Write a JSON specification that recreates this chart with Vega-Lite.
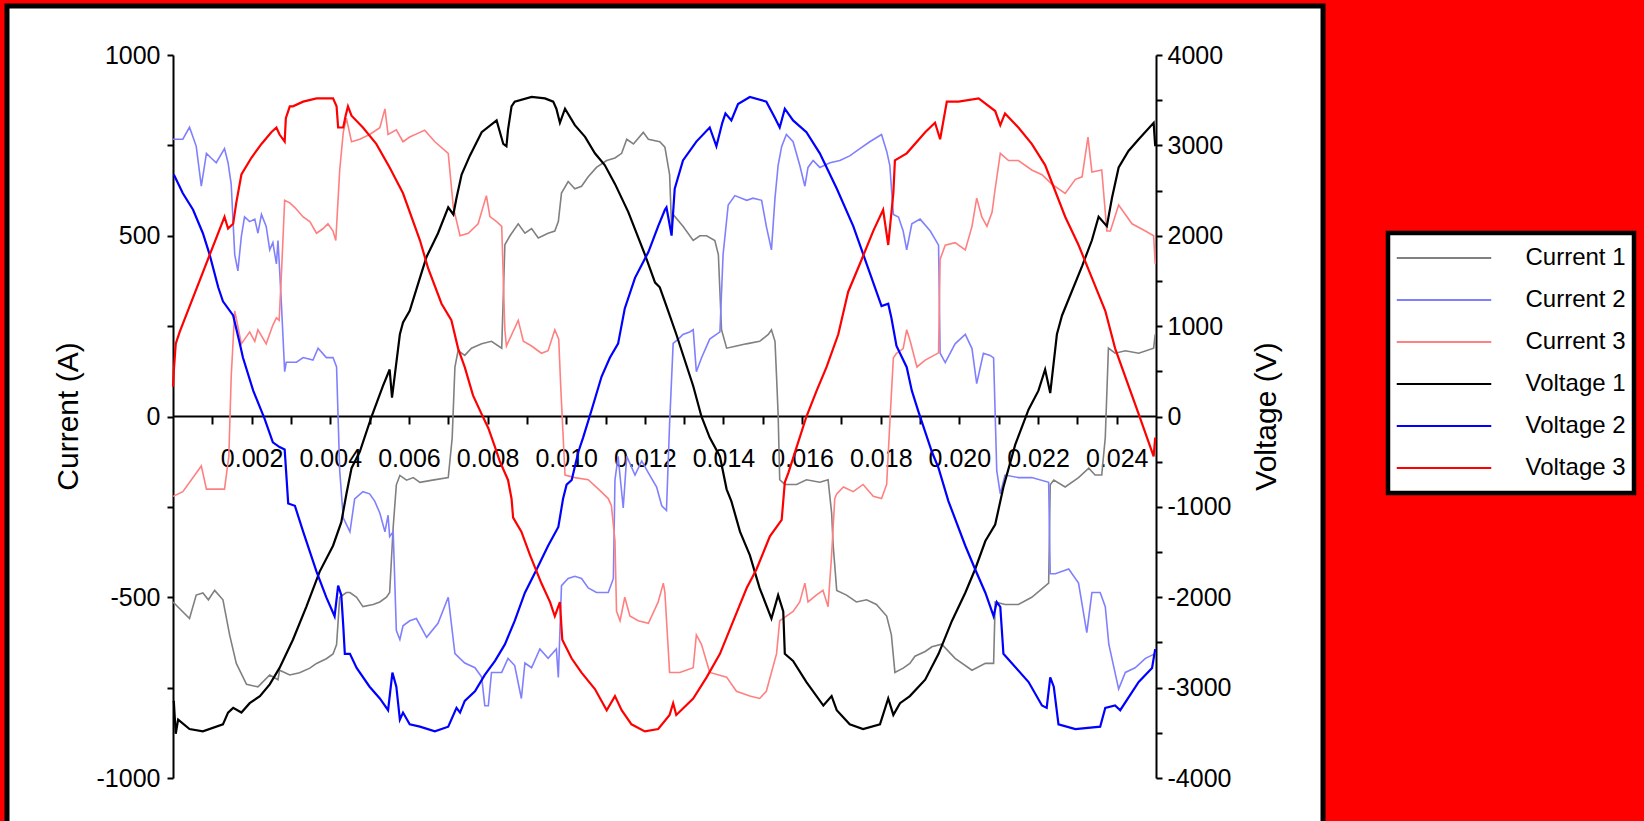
{
"$schema":"https://vega.github.io/schema/vega-lite/v6.json",
"width":1316,"height":815,
"autosize":{"type":"none"},
"padding":{"left":7,"top":6,"right":321,"bottom":0},
"background":"#ff0000",
"config":{
 "view":{"fill":"#ffffff","stroke":"#000000","strokeWidth":5,"strokeDash":[2131,1316,900]},
 "axis":{"grid":false,"domainColor":"#000000","tickColor":"#000000","labelColor":"#000000","titleColor":"#000000","domainWidth":2,"tickWidth":2,"labelFont":"Liberation Sans","labelFontSize":25,"titleFont":"Liberation Sans","titleFontSize":30,"titleFontWeight":"normal","labelOverlap":false,"labelFlush":false,"labelBound":false},
 "legend":{"strokeWidth":4.5}
},
"datasets":{
"cur":[
{"s":"Current 1","t":0,"v":-513},{"s":"Current 1","t":0.00042,"v":-559},{"s":"Current 1","t":0.00059,"v":-494},{"s":"Current 1","t":0.00076,"v":-488},{"s":"Current 1","t":0.0009,"v":-507},{"s":"Current 1","t":0.00106,"v":-481},{"s":"Current 1","t":0.00127,"v":-507},{"s":"Current 1","t":0.00144,"v":-604},{"s":"Current 1","t":0.00161,"v":-683},{"s":"Current 1","t":0.00187,"v":-741},{"s":"Current 1","t":0.00216,"v":-748},{"s":"Current 1","t":0.00246,"v":-715},{"s":"Current 1","t":0.00267,"v":-728},{"s":"Current 1","t":0.00271,"v":-702},{"s":"Current 1","t":0.00297,"v":-715},{"s":"Current 1","t":0.00322,"v":-709},{"s":"Current 1","t":0.00348,"v":-696},{"s":"Current 1","t":0.00365,"v":-683},{"s":"Current 1","t":0.0039,"v":-670},{"s":"Current 1","t":0.00407,"v":-657},{"s":"Current 1","t":0.00416,"v":-631},{"s":"Current 1","t":0.00424,"v":-500},{"s":"Current 1","t":0.00441,"v":-487},{"s":"Current 1","t":0.0045,"v":-487},{"s":"Current 1","t":0.00467,"v":-500},{"s":"Current 1","t":0.00483,"v":-526},{"s":"Current 1","t":0.00509,"v":-520},{"s":"Current 1","t":0.00526,"v":-513},{"s":"Current 1","t":0.00543,"v":-500},{"s":"Current 1","t":0.00551,"v":-487},{"s":"Current 1","t":0.0056,"v":-306},{"s":"Current 1","t":0.00568,"v":-189},{"s":"Current 1","t":0.00577,"v":-163},{"s":"Current 1","t":0.00594,"v":-176},{"s":"Current 1","t":0.00611,"v":-169},{"s":"Current 1","t":0.00628,"v":-182},{"s":"Current 1","t":0.0066,"v":-176},{"s":"Current 1","t":0.007,"v":-169},{"s":"Current 1","t":0.0071,"v":-60},{"s":"Current 1","t":0.00717,"v":137},{"s":"Current 1","t":0.00725,"v":182},{"s":"Current 1","t":0.00742,"v":169},{"s":"Current 1","t":0.00759,"v":189},{"s":"Current 1","t":0.00785,"v":201},{"s":"Current 1","t":0.0081,"v":208},{"s":"Current 1","t":0.00836,"v":189},{"s":"Current 1","t":0.00844,"v":475},{"s":"Current 1","t":0.00857,"v":500},{"s":"Current 1","t":0.00878,"v":533},{"s":"Current 1","t":0.00895,"v":507},{"s":"Current 1","t":0.00912,"v":520},{"s":"Current 1","t":0.00929,"v":494},{"s":"Current 1","t":0.00954,"v":507},{"s":"Current 1","t":0.00971,"v":513},{"s":"Current 1","t":0.0098,"v":539},{"s":"Current 1","t":0.00988,"v":618},{"s":"Current 1","t":0.01005,"v":650},{"s":"Current 1","t":0.01022,"v":630},{"s":"Current 1","t":0.01039,"v":637},{"s":"Current 1","t":0.01056,"v":663},{"s":"Current 1","t":0.01077,"v":689},{"s":"Current 1","t":0.01103,"v":708},{"s":"Current 1","t":0.01124,"v":715},{"s":"Current 1","t":0.01141,"v":728},{"s":"Current 1","t":0.01154,"v":767},{"s":"Current 1","t":0.01171,"v":754},{"s":"Current 1","t":0.01196,"v":786},{"s":"Current 1","t":0.01209,"v":767},{"s":"Current 1","t":0.01238,"v":760},{"s":"Current 1","t":0.01251,"v":745},{"s":"Current 1","t":0.01263,"v":669},{"s":"Current 1","t":0.01268,"v":526},{"s":"Current 1","t":0.01272,"v":559},{"s":"Current 1","t":0.01297,"v":526},{"s":"Current 1","t":0.01323,"v":487},{"s":"Current 1","t":0.0134,"v":500},{"s":"Current 1","t":0.01357,"v":500},{"s":"Current 1","t":0.01378,"v":487},{"s":"Current 1","t":0.01387,"v":448},{"s":"Current 1","t":0.01395,"v":240},{"s":"Current 1","t":0.01408,"v":189},{"s":"Current 1","t":0.01433,"v":195},{"s":"Current 1","t":0.01458,"v":201},{"s":"Current 1","t":0.01492,"v":208},{"s":"Current 1","t":0.01514,"v":227},{"s":"Current 1","t":0.01522,"v":240},{"s":"Current 1","t":0.01531,"v":208},{"s":"Current 1","t":0.01535,"v":110},{"s":"Current 1","t":0.01539,"v":6},{"s":"Current 1","t":0.01543,"v":-175},{"s":"Current 1","t":0.01556,"v":-188},{"s":"Current 1","t":0.01586,"v":-188},{"s":"Current 1","t":0.01611,"v":-175},{"s":"Current 1","t":0.01645,"v":-182},{"s":"Current 1","t":0.01666,"v":-175},{"s":"Current 1","t":0.01675,"v":-266},{"s":"Current 1","t":0.01679,"v":-357},{"s":"Current 1","t":0.01688,"v":-481},{"s":"Current 1","t":0.01713,"v":-494},{"s":"Current 1","t":0.01738,"v":-513},{"s":"Current 1","t":0.01764,"v":-507},{"s":"Current 1","t":0.01789,"v":-520},{"s":"Current 1","t":0.01815,"v":-552},{"s":"Current 1","t":0.01827,"v":-604},{"s":"Current 1","t":0.01836,"v":-708},{"s":"Current 1","t":0.01857,"v":-696},{"s":"Current 1","t":0.01874,"v":-683},{"s":"Current 1","t":0.01887,"v":-663},{"s":"Current 1","t":0.01913,"v":-650},{"s":"Current 1","t":0.0193,"v":-637},{"s":"Current 1","t":0.01955,"v":-630},{"s":"Current 1","t":0.01989,"v":-669},{"s":"Current 1","t":0.02032,"v":-702},{"s":"Current 1","t":0.02066,"v":-683},{"s":"Current 1","t":0.02087,"v":-683},{"s":"Current 1","t":0.02091,"v":-513},{"s":"Current 1","t":0.02116,"v":-520},{"s":"Current 1","t":0.0215,"v":-520},{"s":"Current 1","t":0.02184,"v":-500},{"s":"Current 1","t":0.02227,"v":-461},{"s":"Current 1","t":0.02231,"v":-189},{"s":"Current 1","t":0.0224,"v":-176},{"s":"Current 1","t":0.02269,"v":-195},{"s":"Current 1","t":0.02303,"v":-169},{"s":"Current 1","t":0.02329,"v":-143},{"s":"Current 1","t":0.02345,"v":-162},{"s":"Current 1","t":0.02362,"v":-162},{"s":"Current 1","t":0.02371,"v":-58},{"s":"Current 1","t":0.02379,"v":189},{"s":"Current 1","t":0.02396,"v":175},{"s":"Current 1","t":0.02422,"v":182},{"s":"Current 1","t":0.02456,"v":175},{"s":"Current 1","t":0.02494,"v":189},{"s":"Current 1","t":0.02498,"v":227},
{"s":"Current 2","t":0,"v":767},{"s":"Current 2","t":0.00025,"v":767},{"s":"Current 2","t":0.00042,"v":800},{"s":"Current 2","t":0.00059,"v":748},{"s":"Current 2","t":0.00072,"v":637},{"s":"Current 2","t":0.00085,"v":728},{"s":"Current 2","t":0.00097,"v":715},{"s":"Current 2","t":0.0011,"v":702},{"s":"Current 2","t":0.00131,"v":741},{"s":"Current 2","t":0.0014,"v":702},{"s":"Current 2","t":0.00148,"v":643},{"s":"Current 2","t":0.00157,"v":448},{"s":"Current 2","t":0.00165,"v":403},{"s":"Current 2","t":0.00174,"v":500},{"s":"Current 2","t":0.00182,"v":552},{"s":"Current 2","t":0.00195,"v":539},{"s":"Current 2","t":0.00208,"v":546},{"s":"Current 2","t":0.00216,"v":507},{"s":"Current 2","t":0.00225,"v":559},{"s":"Current 2","t":0.00237,"v":526},{"s":"Current 2","t":0.00246,"v":461},{"s":"Current 2","t":0.00254,"v":481},{"s":"Current 2","t":0.00263,"v":422},{"s":"Current 2","t":0.00267,"v":487},{"s":"Current 2","t":0.00271,"v":409},{"s":"Current 2","t":0.00276,"v":305},{"s":"Current 2","t":0.00284,"v":124},{"s":"Current 2","t":0.00288,"v":150},{"s":"Current 2","t":0.00314,"v":150},{"s":"Current 2","t":0.00331,"v":163},{"s":"Current 2","t":0.00356,"v":156},{"s":"Current 2","t":0.00369,"v":189},{"s":"Current 2","t":0.0039,"v":163},{"s":"Current 2","t":0.00407,"v":163},{"s":"Current 2","t":0.00416,"v":137},{"s":"Current 2","t":0.00424,"v":-150},{"s":"Current 2","t":0.00433,"v":-280},{"s":"Current 2","t":0.0045,"v":-319},{"s":"Current 2","t":0.00462,"v":-228},{"s":"Current 2","t":0.00483,"v":-208},{"s":"Current 2","t":0.005,"v":-214},{"s":"Current 2","t":0.00513,"v":-234},{"s":"Current 2","t":0.00526,"v":-267},{"s":"Current 2","t":0.00539,"v":-319},{"s":"Current 2","t":0.00547,"v":-273},{"s":"Current 2","t":0.00551,"v":-332},{"s":"Current 2","t":0.0056,"v":-319},{"s":"Current 2","t":0.00568,"v":-592},{"s":"Current 2","t":0.00577,"v":-617},{"s":"Current 2","t":0.00585,"v":-579},{"s":"Current 2","t":0.00602,"v":-565},{"s":"Current 2","t":0.00619,"v":-559},{"s":"Current 2","t":0.00645,"v":-611},{"s":"Current 2","t":0.00674,"v":-572},{"s":"Current 2","t":0.007,"v":-500},{"s":"Current 2","t":0.00717,"v":-656},{"s":"Current 2","t":0.00742,"v":-682},{"s":"Current 2","t":0.00768,"v":-695},{"s":"Current 2","t":0.00785,"v":-721},{"s":"Current 2","t":0.00793,"v":-800},{"s":"Current 2","t":0.00802,"v":-800},{"s":"Current 2","t":0.0081,"v":-708},{"s":"Current 2","t":0.00836,"v":-708},{"s":"Current 2","t":0.00852,"v":-669},{"s":"Current 2","t":0.00869,"v":-689},{"s":"Current 2","t":0.00886,"v":-780},{"s":"Current 2","t":0.00895,"v":-682},{"s":"Current 2","t":0.00912,"v":-695},{"s":"Current 2","t":0.00933,"v":-643},{"s":"Current 2","t":0.00954,"v":-669},{"s":"Current 2","t":0.00975,"v":-643},{"s":"Current 2","t":0.0098,"v":-722},{"s":"Current 2","t":0.00988,"v":-468},{"s":"Current 2","t":0.01005,"v":-448},{"s":"Current 2","t":0.01022,"v":-442},{"s":"Current 2","t":0.01039,"v":-448},{"s":"Current 2","t":0.01056,"v":-474},{"s":"Current 2","t":0.01077,"v":-487},{"s":"Current 2","t":0.01107,"v":-487},{"s":"Current 2","t":0.0112,"v":-448},{"s":"Current 2","t":0.01124,"v":-176},{"s":"Current 2","t":0.01132,"v":-110},{"s":"Current 2","t":0.01145,"v":-253},{"s":"Current 2","t":0.01154,"v":-110},{"s":"Current 2","t":0.01175,"v":-162},{"s":"Current 2","t":0.01192,"v":-123},{"s":"Current 2","t":0.01209,"v":-156},{"s":"Current 2","t":0.0123,"v":-195},{"s":"Current 2","t":0.01243,"v":-247},{"s":"Current 2","t":0.01255,"v":-260},{"s":"Current 2","t":0.01263,"v":-19},{"s":"Current 2","t":0.01272,"v":202},{"s":"Current 2","t":0.01285,"v":214},{"s":"Current 2","t":0.01297,"v":227},{"s":"Current 2","t":0.01314,"v":234},{"s":"Current 2","t":0.01323,"v":240},{"s":"Current 2","t":0.01331,"v":124},{"s":"Current 2","t":0.01344,"v":162},{"s":"Current 2","t":0.01365,"v":214},{"s":"Current 2","t":0.01382,"v":227},{"s":"Current 2","t":0.01391,"v":234},{"s":"Current 2","t":0.01399,"v":448},{"s":"Current 2","t":0.01412,"v":585},{"s":"Current 2","t":0.01429,"v":611},{"s":"Current 2","t":0.01459,"v":598},{"s":"Current 2","t":0.01475,"v":604},{"s":"Current 2","t":0.01497,"v":598},{"s":"Current 2","t":0.01509,"v":526},{"s":"Current 2","t":0.01522,"v":461},{"s":"Current 2","t":0.01531,"v":604},{"s":"Current 2","t":0.01539,"v":695},{"s":"Current 2","t":0.01548,"v":747},{"s":"Current 2","t":0.0156,"v":780},{"s":"Current 2","t":0.01577,"v":760},{"s":"Current 2","t":0.01594,"v":695},{"s":"Current 2","t":0.01607,"v":637},{"s":"Current 2","t":0.01615,"v":689},{"s":"Current 2","t":0.01628,"v":708},{"s":"Current 2","t":0.01645,"v":689},{"s":"Current 2","t":0.01671,"v":702},{"s":"Current 2","t":0.01696,"v":708},{"s":"Current 2","t":0.01721,"v":721},{"s":"Current 2","t":0.01747,"v":741},{"s":"Current 2","t":0.01772,"v":760},{"s":"Current 2","t":0.01802,"v":780},{"s":"Current 2","t":0.01815,"v":734},{"s":"Current 2","t":0.01823,"v":695},{"s":"Current 2","t":0.01832,"v":559},{"s":"Current 2","t":0.01845,"v":552},{"s":"Current 2","t":0.01857,"v":513},{"s":"Current 2","t":0.01866,"v":461},{"s":"Current 2","t":0.01879,"v":533},{"s":"Current 2","t":0.019,"v":546},{"s":"Current 2","t":0.01926,"v":513},{"s":"Current 2","t":0.01947,"v":474},{"s":"Current 2","t":0.01951,"v":175},{"s":"Current 2","t":0.01964,"v":149},{"s":"Current 2","t":0.01989,"v":201},{"s":"Current 2","t":0.02015,"v":227},{"s":"Current 2","t":0.02032,"v":188},{"s":"Current 2","t":0.02044,"v":91},{"s":"Current 2","t":0.02061,"v":175},{"s":"Current 2","t":0.02078,"v":169},{"s":"Current 2","t":0.02087,"v":162},{"s":"Current 2","t":0.02095,"v":-150},{"s":"Current 2","t":0.02104,"v":-214},{"s":"Current 2","t":0.02116,"v":-162},{"s":"Current 2","t":0.0215,"v":-169},{"s":"Current 2","t":0.02184,"v":-169},{"s":"Current 2","t":0.02227,"v":-182},{"s":"Current 2","t":0.02231,"v":-435},{"s":"Current 2","t":0.02244,"v":-435},{"s":"Current 2","t":0.02278,"v":-422},{"s":"Current 2","t":0.02303,"v":-461},{"s":"Current 2","t":0.02324,"v":-598},{"s":"Current 2","t":0.02337,"v":-487},{"s":"Current 2","t":0.02358,"v":-487},{"s":"Current 2","t":0.02371,"v":-526},{"s":"Current 2","t":0.0238,"v":-630},{"s":"Current 2","t":0.02405,"v":-754},{"s":"Current 2","t":0.02422,"v":-708},{"s":"Current 2","t":0.02447,"v":-695},{"s":"Current 2","t":0.02473,"v":-669},{"s":"Current 2","t":0.02498,"v":-656},
{"s":"Current 3","t":0,"v":-221},{"s":"Current 3","t":0.00025,"v":-208},{"s":"Current 3","t":0.00072,"v":-137},{"s":"Current 3","t":0.00085,"v":-201},{"s":"Current 3","t":0.00131,"v":-201},{"s":"Current 3","t":0.00142,"v":-110},{"s":"Current 3","t":0.00148,"v":110},{"s":"Current 3","t":0.00157,"v":292},{"s":"Current 3","t":0.00174,"v":201},{"s":"Current 3","t":0.00195,"v":234},{"s":"Current 3","t":0.00208,"v":208},{"s":"Current 3","t":0.00216,"v":240},{"s":"Current 3","t":0.00237,"v":201},{"s":"Current 3","t":0.00254,"v":253},{"s":"Current 3","t":0.00263,"v":273},{"s":"Current 3","t":0.0027,"v":266},{"s":"Current 3","t":0.00276,"v":400},{"s":"Current 3","t":0.00284,"v":598},{"s":"Current 3","t":0.00297,"v":591},{"s":"Current 3","t":0.0031,"v":578},{"s":"Current 3","t":0.00331,"v":552},{"s":"Current 3","t":0.00348,"v":539},{"s":"Current 3","t":0.00365,"v":507},{"s":"Current 3","t":0.00382,"v":520},{"s":"Current 3","t":0.00394,"v":533},{"s":"Current 3","t":0.00407,"v":513},{"s":"Current 3","t":0.00414,"v":487},{"s":"Current 3","t":0.00424,"v":682},{"s":"Current 3","t":0.00433,"v":786},{"s":"Current 3","t":0.00441,"v":825},{"s":"Current 3","t":0.00454,"v":760},{"s":"Current 3","t":0.00475,"v":767},{"s":"Current 3","t":0.005,"v":780},{"s":"Current 3","t":0.00526,"v":799},{"s":"Current 3","t":0.00539,"v":851},{"s":"Current 3","t":0.00547,"v":780},{"s":"Current 3","t":0.00568,"v":793},{"s":"Current 3","t":0.00585,"v":760},{"s":"Current 3","t":0.00602,"v":773},{"s":"Current 3","t":0.00628,"v":786},{"s":"Current 3","t":0.0064,"v":792},{"s":"Current 3","t":0.00666,"v":760},{"s":"Current 3","t":0.007,"v":728},{"s":"Current 3","t":0.00713,"v":578},{"s":"Current 3","t":0.0073,"v":500},{"s":"Current 3","t":0.00751,"v":507},{"s":"Current 3","t":0.00776,"v":533},{"s":"Current 3","t":0.00797,"v":611},{"s":"Current 3","t":0.00806,"v":553},{"s":"Current 3","t":0.00823,"v":539},{"s":"Current 3","t":0.00836,"v":526},{"s":"Current 3","t":0.00844,"v":240},{"s":"Current 3","t":0.00848,"v":195},{"s":"Current 3","t":0.00878,"v":266},{"s":"Current 3","t":0.00891,"v":208},{"s":"Current 3","t":0.00912,"v":195},{"s":"Current 3","t":0.00937,"v":175},{"s":"Current 3","t":0.00954,"v":182},{"s":"Current 3","t":0.00971,"v":240},{"s":"Current 3","t":0.00981,"v":214},{"s":"Current 3","t":0.00986,"v":85},{"s":"Current 3","t":0.00997,"v":-162},{"s":"Current 3","t":0.01022,"v":-169},{"s":"Current 3","t":0.01056,"v":-175},{"s":"Current 3","t":0.01082,"v":-201},{"s":"Current 3","t":0.01107,"v":-227},{"s":"Current 3","t":0.01115,"v":-247},{"s":"Current 3","t":0.01124,"v":-344},{"s":"Current 3","t":0.01128,"v":-539},{"s":"Current 3","t":0.01137,"v":-565},{"s":"Current 3","t":0.01149,"v":-500},{"s":"Current 3","t":0.01162,"v":-552},{"s":"Current 3","t":0.01183,"v":-565},{"s":"Current 3","t":0.01209,"v":-572},{"s":"Current 3","t":0.01234,"v":-513},{"s":"Current 3","t":0.01247,"v":-461},{"s":"Current 3","t":0.01251,"v":-487},{"s":"Current 3","t":0.01263,"v":-708},{"s":"Current 3","t":0.01289,"v":-708},{"s":"Current 3","t":0.01323,"v":-695},{"s":"Current 3","t":0.01331,"v":-604},{"s":"Current 3","t":0.01344,"v":-630},{"s":"Current 3","t":0.01365,"v":-708},{"s":"Current 3","t":0.01408,"v":-721},{"s":"Current 3","t":0.01433,"v":-760},{"s":"Current 3","t":0.01467,"v":-773},{"s":"Current 3","t":0.01492,"v":-780},{"s":"Current 3","t":0.01509,"v":-760},{"s":"Current 3","t":0.01522,"v":-708},{"s":"Current 3","t":0.01535,"v":-656},{"s":"Current 3","t":0.01543,"v":-565},{"s":"Current 3","t":0.0156,"v":-552},{"s":"Current 3","t":0.01577,"v":-539},{"s":"Current 3","t":0.01594,"v":-513},{"s":"Current 3","t":0.01607,"v":-461},{"s":"Current 3","t":0.01615,"v":-513},{"s":"Current 3","t":0.01636,"v":-494},{"s":"Current 3","t":0.01653,"v":-481},{"s":"Current 3","t":0.01666,"v":-526},{"s":"Current 3","t":0.01675,"v":-383},{"s":"Current 3","t":0.01683,"v":-227},{"s":"Current 3","t":0.01688,"v":-214},{"s":"Current 3","t":0.01705,"v":-195},{"s":"Current 3","t":0.0173,"v":-208},{"s":"Current 3","t":0.01755,"v":-188},{"s":"Current 3","t":0.01781,"v":-221},{"s":"Current 3","t":0.01802,"v":-227},{"s":"Current 3","t":0.01815,"v":-188},{"s":"Current 3","t":0.01823,"v":-19},{"s":"Current 3","t":0.01832,"v":162},{"s":"Current 3","t":0.0184,"v":175},{"s":"Current 3","t":0.01857,"v":188},{"s":"Current 3","t":0.01866,"v":240},{"s":"Current 3","t":0.01875,"v":208},{"s":"Current 3","t":0.01892,"v":137},{"s":"Current 3","t":0.01913,"v":156},{"s":"Current 3","t":0.01947,"v":176},{"s":"Current 3","t":0.01951,"v":435},{"s":"Current 3","t":0.01964,"v":474},{"s":"Current 3","t":0.01989,"v":481},{"s":"Current 3","t":0.02015,"v":461},{"s":"Current 3","t":0.02032,"v":526},{"s":"Current 3","t":0.02044,"v":604},{"s":"Current 3","t":0.02057,"v":552},{"s":"Current 3","t":0.0207,"v":526},{"s":"Current 3","t":0.02083,"v":565},{"s":"Current 3","t":0.02091,"v":630},{"s":"Current 3","t":0.02104,"v":728},{"s":"Current 3","t":0.02125,"v":708},{"s":"Current 3","t":0.0215,"v":708},{"s":"Current 3","t":0.02184,"v":682},{"s":"Current 3","t":0.0221,"v":669},{"s":"Current 3","t":0.02235,"v":643},{"s":"Current 3","t":0.02269,"v":617},{"s":"Current 3","t":0.02295,"v":656},{"s":"Current 3","t":0.02312,"v":663},{"s":"Current 3","t":0.02327,"v":773},{"s":"Current 3","t":0.02337,"v":676},{"s":"Current 3","t":0.02362,"v":682},{"s":"Current 3","t":0.02375,"v":513},{"s":"Current 3","t":0.02384,"v":513},{"s":"Current 3","t":0.02405,"v":585},{"s":"Current 3","t":0.02439,"v":533},{"s":"Current 3","t":0.02473,"v":513},{"s":"Current 3","t":0.02494,"v":500},{"s":"Current 3","t":0.02498,"v":422}
],
"vol":[
{"s":"Voltage 1","t":0.00002,"v":-3146},{"s":"Voltage 1","t":0.00007,"v":-3510},{"s":"Voltage 1","t":0.00013,"v":-3354},{"s":"Voltage 1","t":0.00042,"v":-3458},{"s":"Voltage 1","t":0.00076,"v":-3484},{"s":"Voltage 1","t":0.00127,"v":-3406},{"s":"Voltage 1","t":0.0014,"v":-3276},{"s":"Voltage 1","t":0.00153,"v":-3224},{"s":"Voltage 1","t":0.00174,"v":-3276},{"s":"Voltage 1","t":0.00195,"v":-3172},{"s":"Voltage 1","t":0.00221,"v":-3094},{"s":"Voltage 1","t":0.00246,"v":-2964},{"s":"Voltage 1","t":0.00271,"v":-2782},{"s":"Voltage 1","t":0.00305,"v":-2470},{"s":"Voltage 1","t":0.00339,"v":-2106},{"s":"Voltage 1","t":0.00373,"v":-1716},{"s":"Voltage 1","t":0.00407,"v":-1430},{"s":"Voltage 1","t":0.00428,"v":-1170},{"s":"Voltage 1","t":0.00441,"v":-858},{"s":"Voltage 1","t":0.00454,"v":-572},{"s":"Voltage 1","t":0.00475,"v":-390},{"s":"Voltage 1","t":0.00505,"v":0},{"s":"Voltage 1","t":0.00534,"v":338},{"s":"Voltage 1","t":0.00551,"v":520},{"s":"Voltage 1","t":0.00557,"v":208},{"s":"Voltage 1","t":0.00577,"v":910},{"s":"Voltage 1","t":0.00585,"v":1040},{"s":"Voltage 1","t":0.00602,"v":1170},{"s":"Voltage 1","t":0.00628,"v":1534},{"s":"Voltage 1","t":0.00645,"v":1768},{"s":"Voltage 1","t":0.00674,"v":2028},{"s":"Voltage 1","t":0.007,"v":2314},{"s":"Voltage 1","t":0.00713,"v":2236},{"s":"Voltage 1","t":0.00721,"v":2418},{"s":"Voltage 1","t":0.00734,"v":2678},{"s":"Voltage 1","t":0.00755,"v":2886},{"s":"Voltage 1","t":0.00785,"v":3146},{"s":"Voltage 1","t":0.00823,"v":3276},{"s":"Voltage 1","t":0.0084,"v":3016},{"s":"Voltage 1","t":0.00848,"v":2990},{"s":"Voltage 1","t":0.00852,"v":3172},{"s":"Voltage 1","t":0.00861,"v":3432},{"s":"Voltage 1","t":0.00869,"v":3484},{"s":"Voltage 1","t":0.00912,"v":3536},{"s":"Voltage 1","t":0.00946,"v":3520},{"s":"Voltage 1","t":0.00967,"v":3484},{"s":"Voltage 1","t":0.00975,"v":3406},{"s":"Voltage 1","t":0.00984,"v":3250},{"s":"Voltage 1","t":0.00997,"v":3406},{"s":"Voltage 1","t":0.01022,"v":3224},{"s":"Voltage 1","t":0.01048,"v":3094},{"s":"Voltage 1","t":0.01073,"v":2912},{"s":"Voltage 1","t":0.01098,"v":2782},{"s":"Voltage 1","t":0.01124,"v":2574},{"s":"Voltage 1","t":0.01158,"v":2262},{"s":"Voltage 1","t":0.012,"v":1794},{"s":"Voltage 1","t":0.01226,"v":1482},{"s":"Voltage 1","t":0.01238,"v":1430},{"s":"Voltage 1","t":0.01255,"v":1222},{"s":"Voltage 1","t":0.0128,"v":910},{"s":"Voltage 1","t":0.01323,"v":338},{"s":"Voltage 1","t":0.01344,"v":0},{"s":"Voltage 1","t":0.01365,"v":-234},{"s":"Voltage 1","t":0.01391,"v":-442},{"s":"Voltage 1","t":0.01408,"v":-806},{"s":"Voltage 1","t":0.0142,"v":-936},{"s":"Voltage 1","t":0.01442,"v":-1274},{"s":"Voltage 1","t":0.01467,"v":-1534},{"s":"Voltage 1","t":0.01492,"v":-1898},{"s":"Voltage 1","t":0.01522,"v":-2236},{"s":"Voltage 1","t":0.01539,"v":-1976},{"s":"Voltage 1","t":0.01552,"v":-2158},{"s":"Voltage 1","t":0.01556,"v":-2626},{"s":"Voltage 1","t":0.01577,"v":-2704},{"s":"Voltage 1","t":0.01611,"v":-2938},{"s":"Voltage 1","t":0.01654,"v":-3198},{"s":"Voltage 1","t":0.01675,"v":-3094},{"s":"Voltage 1","t":0.01688,"v":-3250},{"s":"Voltage 1","t":0.01721,"v":-3406},{"s":"Voltage 1","t":0.01755,"v":-3458},{"s":"Voltage 1","t":0.01798,"v":-3406},{"s":"Voltage 1","t":0.01819,"v":-3120},{"s":"Voltage 1","t":0.01832,"v":-3302},{"s":"Voltage 1","t":0.01849,"v":-3172},{"s":"Voltage 1","t":0.01874,"v":-3094},{"s":"Voltage 1","t":0.01913,"v":-2912},{"s":"Voltage 1","t":0.01947,"v":-2626},{"s":"Voltage 1","t":0.01981,"v":-2262},{"s":"Voltage 1","t":0.02015,"v":-1950},{"s":"Voltage 1","t":0.0204,"v":-1690},{"s":"Voltage 1","t":0.02066,"v":-1378},{"s":"Voltage 1","t":0.02091,"v":-1196},{"s":"Voltage 1","t":0.02112,"v":-780},{"s":"Voltage 1","t":0.02142,"v":-312},{"s":"Voltage 1","t":0.02176,"v":78},{"s":"Voltage 1","t":0.02201,"v":286},{"s":"Voltage 1","t":0.02218,"v":520},{"s":"Voltage 1","t":0.02231,"v":260},{"s":"Voltage 1","t":0.02248,"v":910},{"s":"Voltage 1","t":0.02261,"v":1118},{"s":"Voltage 1","t":0.02312,"v":1664},{"s":"Voltage 1","t":0.02337,"v":1950},{"s":"Voltage 1","t":0.02354,"v":2210},{"s":"Voltage 1","t":0.02375,"v":2106},{"s":"Voltage 1","t":0.02388,"v":2418},{"s":"Voltage 1","t":0.02405,"v":2756},{"s":"Voltage 1","t":0.0243,"v":2938},{"s":"Voltage 1","t":0.02456,"v":3068},{"s":"Voltage 1","t":0.02494,"v":3250},{"s":"Voltage 1","t":0.02498,"v":2990},
{"s":"Voltage 2","t":0.00002,"v":2678},{"s":"Voltage 2","t":0.00025,"v":2470},{"s":"Voltage 2","t":0.00051,"v":2288},{"s":"Voltage 2","t":0.00076,"v":2028},{"s":"Voltage 2","t":0.00093,"v":1794},{"s":"Voltage 2","t":0.00115,"v":1430},{"s":"Voltage 2","t":0.00127,"v":1274},{"s":"Voltage 2","t":0.00153,"v":1118},{"s":"Voltage 2","t":0.0017,"v":806},{"s":"Voltage 2","t":0.00178,"v":650},{"s":"Voltage 2","t":0.00204,"v":286},{"s":"Voltage 2","t":0.00233,"v":-26},{"s":"Voltage 2","t":0.00254,"v":-286},{"s":"Voltage 2","t":0.00271,"v":-338},{"s":"Voltage 2","t":0.00284,"v":-364},{"s":"Voltage 2","t":0.00293,"v":-962},{"s":"Voltage 2","t":0.0031,"v":-988},{"s":"Voltage 2","t":0.00331,"v":-1274},{"s":"Voltage 2","t":0.00365,"v":-1716},{"s":"Voltage 2","t":0.0039,"v":-2002},{"s":"Voltage 2","t":0.00411,"v":-2210},{"s":"Voltage 2","t":0.0042,"v":-1872},{"s":"Voltage 2","t":0.00428,"v":-1976},{"s":"Voltage 2","t":0.00433,"v":-2314},{"s":"Voltage 2","t":0.00437,"v":-2626},{"s":"Voltage 2","t":0.0045,"v":-2626},{"s":"Voltage 2","t":0.00467,"v":-2782},{"s":"Voltage 2","t":0.005,"v":-2990},{"s":"Voltage 2","t":0.00526,"v":-3120},{"s":"Voltage 2","t":0.00547,"v":-3250},{"s":"Voltage 2","t":0.00558,"v":-2834},{"s":"Voltage 2","t":0.00568,"v":-2990},{"s":"Voltage 2","t":0.00577,"v":-3354},{"s":"Voltage 2","t":0.00585,"v":-3276},{"s":"Voltage 2","t":0.00602,"v":-3406},{"s":"Voltage 2","t":0.00628,"v":-3432},{"s":"Voltage 2","t":0.00666,"v":-3484},{"s":"Voltage 2","t":0.007,"v":-3432},{"s":"Voltage 2","t":0.00721,"v":-3224},{"s":"Voltage 2","t":0.0073,"v":-3276},{"s":"Voltage 2","t":0.00742,"v":-3146},{"s":"Voltage 2","t":0.00768,"v":-3042},{"s":"Voltage 2","t":0.00793,"v":-2860},{"s":"Voltage 2","t":0.00819,"v":-2704},{"s":"Voltage 2","t":0.00844,"v":-2522},{"s":"Voltage 2","t":0.00869,"v":-2262},{"s":"Voltage 2","t":0.00895,"v":-1950},{"s":"Voltage 2","t":0.00925,"v":-1690},{"s":"Voltage 2","t":0.00954,"v":-1430},{"s":"Voltage 2","t":0.0098,"v":-1222},{"s":"Voltage 2","t":0.00992,"v":-910},{"s":"Voltage 2","t":0.01001,"v":-754},{"s":"Voltage 2","t":0.01014,"v":-702},{"s":"Voltage 2","t":0.01031,"v":-390},{"s":"Voltage 2","t":0.01043,"v":-234},{"s":"Voltage 2","t":0.01065,"v":78},{"s":"Voltage 2","t":0.0109,"v":442},{"s":"Voltage 2","t":0.01111,"v":650},{"s":"Voltage 2","t":0.01132,"v":806},{"s":"Voltage 2","t":0.01149,"v":1196},{"s":"Voltage 2","t":0.01175,"v":1534},{"s":"Voltage 2","t":0.01209,"v":1820},{"s":"Voltage 2","t":0.01234,"v":2106},{"s":"Voltage 2","t":0.01251,"v":2288},{"s":"Voltage 2","t":0.01255,"v":2314},{"s":"Voltage 2","t":0.01268,"v":2002},{"s":"Voltage 2","t":0.01276,"v":2522},{"s":"Voltage 2","t":0.01297,"v":2834},{"s":"Voltage 2","t":0.01331,"v":3042},{"s":"Voltage 2","t":0.01365,"v":3198},{"s":"Voltage 2","t":0.01382,"v":2990},{"s":"Voltage 2","t":0.01397,"v":3250},{"s":"Voltage 2","t":0.01405,"v":3354},{"s":"Voltage 2","t":0.0142,"v":3276},{"s":"Voltage 2","t":0.01437,"v":3458},{"s":"Voltage 2","t":0.01467,"v":3536},{"s":"Voltage 2","t":0.01509,"v":3484},{"s":"Voltage 2","t":0.01531,"v":3302},{"s":"Voltage 2","t":0.01543,"v":3198},{"s":"Voltage 2","t":0.01556,"v":3406},{"s":"Voltage 2","t":0.01577,"v":3276},{"s":"Voltage 2","t":0.01611,"v":3146},{"s":"Voltage 2","t":0.01645,"v":2912},{"s":"Voltage 2","t":0.01688,"v":2522},{"s":"Voltage 2","t":0.0173,"v":2106},{"s":"Voltage 2","t":0.01764,"v":1690},{"s":"Voltage 2","t":0.01802,"v":1222},{"s":"Voltage 2","t":0.01819,"v":1248},{"s":"Voltage 2","t":0.01827,"v":1092},{"s":"Voltage 2","t":0.0184,"v":780},{"s":"Voltage 2","t":0.01866,"v":546},{"s":"Voltage 2","t":0.01879,"v":286},{"s":"Voltage 2","t":0.01896,"v":52},{"s":"Voltage 2","t":0.0193,"v":-390},{"s":"Voltage 2","t":0.01947,"v":-572},{"s":"Voltage 2","t":0.01972,"v":-936},{"s":"Voltage 2","t":0.02015,"v":-1430},{"s":"Voltage 2","t":0.0204,"v":-1690},{"s":"Voltage 2","t":0.02066,"v":-1950},{"s":"Voltage 2","t":0.02087,"v":-2210},{"s":"Voltage 2","t":0.02095,"v":-2054},{"s":"Voltage 2","t":0.02104,"v":-2106},{"s":"Voltage 2","t":0.02112,"v":-2626},{"s":"Voltage 2","t":0.02176,"v":-2938},{"s":"Voltage 2","t":0.0221,"v":-3198},{"s":"Voltage 2","t":0.02222,"v":-3224},{"s":"Voltage 2","t":0.02231,"v":-2886},{"s":"Voltage 2","t":0.0224,"v":-2990},{"s":"Voltage 2","t":0.02252,"v":-3406},{"s":"Voltage 2","t":0.02295,"v":-3458},{"s":"Voltage 2","t":0.02358,"v":-3432},{"s":"Voltage 2","t":0.02371,"v":-3224},{"s":"Voltage 2","t":0.02396,"v":-3198},{"s":"Voltage 2","t":0.02409,"v":-3250},{"s":"Voltage 2","t":0.02456,"v":-2938},{"s":"Voltage 2","t":0.0249,"v":-2782},{"s":"Voltage 2","t":0.02498,"v":-2574},
{"s":"Voltage 3","t":0,"v":330},{"s":"Voltage 3","t":0.00002,"v":500},{"s":"Voltage 3","t":0.00007,"v":806},{"s":"Voltage 3","t":0.00017,"v":936},{"s":"Voltage 3","t":0.00131,"v":2210},{"s":"Voltage 3","t":0.0014,"v":2080},{"s":"Voltage 3","t":0.00153,"v":2132},{"s":"Voltage 3","t":0.00161,"v":2366},{"s":"Voltage 3","t":0.00174,"v":2678},{"s":"Voltage 3","t":0.00199,"v":2860},{"s":"Voltage 3","t":0.00225,"v":3016},{"s":"Voltage 3","t":0.0025,"v":3146},{"s":"Voltage 3","t":0.00263,"v":3198},{"s":"Voltage 3","t":0.00271,"v":3120},{"s":"Voltage 3","t":0.00284,"v":3042},{"s":"Voltage 3","t":0.00287,"v":3302},{"s":"Voltage 3","t":0.00297,"v":3432},{"s":"Voltage 3","t":0.00305,"v":3432},{"s":"Voltage 3","t":0.00331,"v":3484},{"s":"Voltage 3","t":0.00365,"v":3520},{"s":"Voltage 3","t":0.00407,"v":3520},{"s":"Voltage 3","t":0.00416,"v":3432},{"s":"Voltage 3","t":0.0042,"v":3198},{"s":"Voltage 3","t":0.00433,"v":3198},{"s":"Voltage 3","t":0.00439,"v":3328},{"s":"Voltage 3","t":0.00445,"v":3432},{"s":"Voltage 3","t":0.00454,"v":3328},{"s":"Voltage 3","t":0.00483,"v":3198},{"s":"Voltage 3","t":0.00517,"v":3016},{"s":"Voltage 3","t":0.00551,"v":2756},{"s":"Voltage 3","t":0.00585,"v":2470},{"s":"Voltage 3","t":0.00628,"v":1950},{"s":"Voltage 3","t":0.00649,"v":1638},{"s":"Voltage 3","t":0.00683,"v":1248},{"s":"Voltage 3","t":0.00708,"v":1066},{"s":"Voltage 3","t":0.00725,"v":754},{"s":"Voltage 3","t":0.00742,"v":546},{"s":"Voltage 3","t":0.00763,"v":234},{"s":"Voltage 3","t":0.00785,"v":26},{"s":"Voltage 3","t":0.00802,"v":-130},{"s":"Voltage 3","t":0.00819,"v":-338},{"s":"Voltage 3","t":0.00831,"v":-494},{"s":"Voltage 3","t":0.00852,"v":-702},{"s":"Voltage 3","t":0.00861,"v":-910},{"s":"Voltage 3","t":0.00865,"v":-1118},{"s":"Voltage 3","t":0.00886,"v":-1274},{"s":"Voltage 3","t":0.00908,"v":-1534},{"s":"Voltage 3","t":0.00937,"v":-1846},{"s":"Voltage 3","t":0.00959,"v":-2054},{"s":"Voltage 3","t":0.00971,"v":-2210},{"s":"Voltage 3","t":0.00984,"v":-2054},{"s":"Voltage 3","t":0.0099,"v":-2470},{"s":"Voltage 3","t":0.01014,"v":-2678},{"s":"Voltage 3","t":0.01039,"v":-2834},{"s":"Voltage 3","t":0.01073,"v":-3016},{"s":"Voltage 3","t":0.01103,"v":-3250},{"s":"Voltage 3","t":0.01124,"v":-3094},{"s":"Voltage 3","t":0.01141,"v":-3250},{"s":"Voltage 3","t":0.01166,"v":-3406},{"s":"Voltage 3","t":0.012,"v":-3484},{"s":"Voltage 3","t":0.01234,"v":-3458},{"s":"Voltage 3","t":0.01263,"v":-3302},{"s":"Voltage 3","t":0.01272,"v":-3172},{"s":"Voltage 3","t":0.0128,"v":-3302},{"s":"Voltage 3","t":0.01323,"v":-3120},{"s":"Voltage 3","t":0.01357,"v":-2886},{"s":"Voltage 3","t":0.01391,"v":-2626},{"s":"Voltage 3","t":0.01425,"v":-2262},{"s":"Voltage 3","t":0.01459,"v":-1898},{"s":"Voltage 3","t":0.01484,"v":-1690},{"s":"Voltage 3","t":0.01518,"v":-1326},{"s":"Voltage 3","t":0.01548,"v":-1144},{"s":"Voltage 3","t":0.01556,"v":-728},{"s":"Voltage 3","t":0.01565,"v":-624},{"s":"Voltage 3","t":0.01586,"v":-338},{"s":"Voltage 3","t":0.01611,"v":0},{"s":"Voltage 3","t":0.01637,"v":286},{"s":"Voltage 3","t":0.01662,"v":546},{"s":"Voltage 3","t":0.01692,"v":910},{"s":"Voltage 3","t":0.01717,"v":1378},{"s":"Voltage 3","t":0.01747,"v":1690},{"s":"Voltage 3","t":0.01781,"v":2054},{"s":"Voltage 3","t":0.01806,"v":2288},{"s":"Voltage 3","t":0.01819,"v":1898},{"s":"Voltage 3","t":0.01832,"v":2470},{"s":"Voltage 3","t":0.01836,"v":2834},{"s":"Voltage 3","t":0.01866,"v":2912},{"s":"Voltage 3","t":0.01913,"v":3146},{"s":"Voltage 3","t":0.01938,"v":3250},{"s":"Voltage 3","t":0.01951,"v":3068},{"s":"Voltage 3","t":0.01968,"v":3484},{"s":"Voltage 3","t":0.01998,"v":3484},{"s":"Voltage 3","t":0.02049,"v":3520},{"s":"Voltage 3","t":0.02091,"v":3380},{"s":"Voltage 3","t":0.02104,"v":3224},{"s":"Voltage 3","t":0.02116,"v":3354},{"s":"Voltage 3","t":0.0215,"v":3198},{"s":"Voltage 3","t":0.02184,"v":3016},{"s":"Voltage 3","t":0.02218,"v":2782},{"s":"Voltage 3","t":0.02269,"v":2210},{"s":"Voltage 3","t":0.02303,"v":1898},{"s":"Voltage 3","t":0.02337,"v":1534},{"s":"Voltage 3","t":0.02371,"v":1170},{"s":"Voltage 3","t":0.02396,"v":754},{"s":"Voltage 3","t":0.02456,"v":26},{"s":"Voltage 3","t":0.02494,"v":-442},{"s":"Voltage 3","t":0.02498,"v":-234}
]},
"encoding":{
 "x":{"field":"t","type":"quantitative",
  "scale":{"domain":[0,0.025],"range":[166,1149],"nice":false,"zero":false},
  "axis":{"orient":"bottom","offset":-405,"title":null,"values":[0.001,0.002,0.003,0.004,0.005,0.006,0.007,0.008,0.009,0.010,0.011,0.012,0.013,0.014,0.015,0.016,0.017,0.018,0.019,0.020,0.021,0.022,0.023,0.024],"labelExpr":"round(datum.value*1000) % 2 === 0 ? format(datum.value, '.3f') : ''","tickSize":8,"labelPadding":22,"labelBaseline":"top"}},
 "color":{"field":"s","type":"nominal",
  "scale":{"domain":["Current 1","Current 2","Current 3","Voltage 1","Voltage 2","Voltage 3"],"range":["#808080","#8080ff","#ff8080","#000000","#0000ff","#ff0000"]},
  "legend":{"orient":"none","legendX":1381,"legendY":227,"title":null,"symbolType":"stroke","symbolSize":8930,"symbolStrokeWidth":2,"clipHeight":35,"rowPadding":7,"labelFont":"Liberation Sans","labelFontSize":24,"labelColor":"#000000","labelOffset":33,"padding":7.5,"fillColor":"#ffffff","strokeColor":"#000000","labelLimit":300}}
},
"layer":[
 {"data":{"name":"cur"},"mark":{"type":"line","strokeWidth":1.6},
  "encoding":{"y":{"field":"v","type":"quantitative","scale":{"domain":[-1000,1000],"range":[772,49],"nice":false,"zero":false},
   "axis":{"orient":"left","offset":-166,"values":[-1000,-750,-500,-250,0,250,500,750,1000],"labelExpr":"datum.value % 500 === 0 ? '' + datum.value : ''","tickSize":6,"labelPadding":7,"title":"Current (A)","titleAngle":-90,"titleX":-105,"titleY":410,"titleAlign":"center","titleBaseline":"middle"}}}},
 {"data":{"name":"vol"},"mark":{"type":"line","strokeWidth":2.2},
  "encoding":{"y":{"field":"v","type":"quantitative","scale":{"domain":[-4000,4000],"range":[772,49],"nice":false,"zero":false},
   "axis":{"orient":"right","offset":-167,"values":[-4000,-3500,-3000,-2500,-2000,-1500,-1000,-500,0,500,1000,1500,2000,2500,3000,3500,4000],"labelExpr":"datum.value % 1000 === 0 ? '' + datum.value : ''","tickSize":6,"labelPadding":5,"title":"Voltage (V)","titleAngle":-90,"titleX":110,"titleY":410,"titleAlign":"center","titleBaseline":"middle"}}}}
],
"resolve":{"scale":{"y":"independent"}}
}
